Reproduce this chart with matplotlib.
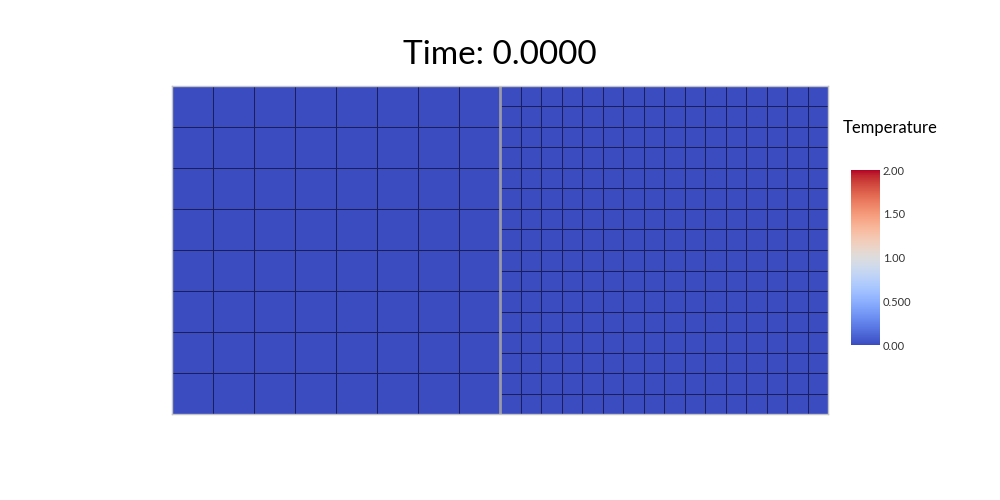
import numpy as np
import matplotlib
matplotlib.use("Agg")
import matplotlib.pyplot as plt

# mesh data: coarse block on the left, fine block on the right
time_value = 0.0
n_left = 8
n_right = 16
temp_left = np.zeros((n_left, n_left))
temp_right = np.zeros((n_right, n_right))
tick_vals = [0.0, 0.5, 1.0, 1.5, 2.0]
tick_labels = ["0.00", "0.500", "1.00", "1.50", "2.00"]
vmin, vmax = 0.0, 2.0

plt.rcParams['font.family'] = ['Lato', 'DejaVu Sans']

fig = plt.figure(figsize=(10, 5), dpi=100)
ax = fig.add_axes([0.172, 0.172, 0.656, 0.656])

edge = "#1a1e5a"
xl = np.linspace(0, 1, n_left + 1)
yl = np.linspace(0, 1, n_left + 1)
ax.pcolormesh(xl, yl, temp_left, cmap="coolwarm", vmin=vmin, vmax=vmax,
              edgecolors=edge, linewidth=0.6)
xr = np.linspace(1, 2, n_right + 1)
yr = np.linspace(0, 1, n_right + 1)
mesh = ax.pcolormesh(xr, yr, temp_right, cmap="coolwarm", vmin=vmin, vmax=vmax,
                     edgecolors=edge, linewidth=0.6)

# interface between the two blocks
ax.axvline(1.0, color="#9a9aa8", linewidth=2)

ax.set_xlim(0, 2)
ax.set_ylim(0, 1)
ax.set_xticks([])
ax.set_yticks([])
for s in ax.spines.values():
    s.set_color("#c4c4c4")
    s.set_linewidth(1.0)

fig.text(0.5, 0.89, f"Time: {time_value:.4f}", ha="center", va="center",
         fontsize=24, color="black")

# colour bar
cax = fig.add_axes([0.851, 0.31, 0.029, 0.35])
cb = fig.colorbar(mesh, cax=cax)
cb.set_ticks(tick_vals)
cb.set_ticklabels(tick_labels)
cb.outline.set_visible(False)
cax.tick_params(length=0, pad=2, labelsize=8, labelcolor="#333333")
fig.text(0.89, 0.745, "Temperature", ha="center", va="center",
         fontsize=12, color="black")

fig.savefig("out.png", dpi=100)
